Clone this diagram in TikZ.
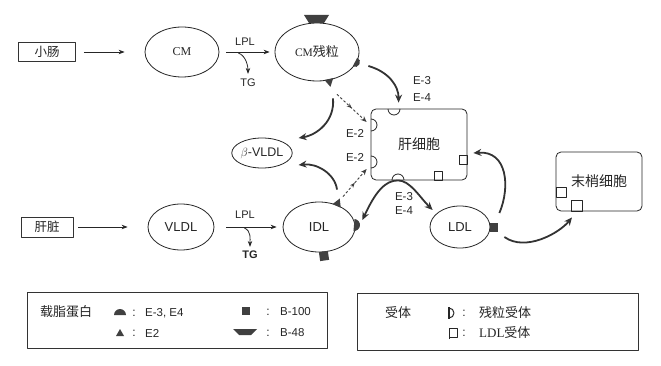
\documentclass[tikz,border=0pt]{standalone}
\usepackage{fontspec}
\setmainfont{Liberation Sans}
\newfontfamily\cjk{Noto Sans CJK SC}
\newfontfamily\serf{Liberation Serif}
\usetikzlibrary{shapes.geometric,arrows.meta,decorations.markings}
\begin{document}
\begin{tikzpicture}[x=1pt,y=-1pt,line join=round,
  every node/.style={text=black!85, inner sep=0pt},
  ell/.style={draw=black!85, ellipse, line width=0.8pt},
  bx/.style={draw=black!80, line width=0.7pt},
  cell/.style={draw=black!85, line width=0.8pt, rounded corners=5pt},
  lgd/.style={draw=black!80, line width=0.8pt},
  fs/.style={font=\fontsize{#1}{#1}\selectfont},
  cjkfs/.style={font=\cjk\fontsize{#1}{#1}\selectfont},
  thinarr/.style={draw=black!85, line width=0.8pt, -{Stealth[length=6pt,width=4.5pt]}},
  thickarr/.style={draw=black!80, line width=1.8pt, -{Stealth[length=8pt,width=7pt]}},
  dasharr/.style={draw=black!75, line width=0.9pt, dash pattern=on 2.5pt off 2pt, -{Stealth[length=6pt,width=5pt]},
    postaction={decorate, decoration={markings, mark=at position 0.5 with {\arrow{Stealth[length=5pt,width=4pt]}}}}},
  apo/.style={fill=black!75},
  rec/.style={draw=black!85, line width=0.8pt},
]
\fill[white] (0,0) rectangle (661,366);
\useasboundingbox (0,0) rectangle (661,366);

% ---------- nodes ----------
\node[bx, minimum width=57pt, minimum height=19pt, cjkfs=12.5] (xc) at (47,52) {小肠};
\node[ell, minimum width=74pt, minimum height=50pt, font=\serf\fontsize{12}{12}\selectfont] (cm) at (182,52) {CM};
\node[ell, minimum width=84pt, minimum height=58pt, cjkfs=13] (cmr) at (317,52) {{\serf\fontsize{11.5}{11.5}\selectfont CM}残粒};
\node[ell, minimum width=60pt, minimum height=30pt, fs=12.5] (bvl) at (262,153) {$\beta$-VLDL};
\node[cell, minimum width=96pt, minimum height=71pt, cjkfs=14] (hep) at (419,144.5) {肝细胞};
\node[bx, minimum width=52pt, minimum height=20pt, cjkfs=12.5] (hz) at (47,227) {肝脏};
\node[ell, minimum width=66pt, minimum height=46pt, fs=13] (vldl) at (181,227) {VLDL};
\node[ell, minimum width=72pt, minimum height=50pt, fs=13] (idl) at (319,227) {IDL};
\node[ell, minimum width=60pt, minimum height=42pt, fs=13] (ldl) at (460,227) {LDL};
\node[cell, minimum width=86pt, minimum height=59pt, cjkfs=14] (pc) at (599,181.5) {末梢细胞};

% ---------- labels ----------
\node[fs=11] (lpl1) at (245,42) {LPL};
\node[fs=11] (tg1) at (248,83) {TG};
\node[fs=11] (lpl2) at (245,215) {LPL};
\node[font=\bfseries\fontsize{11}{11}\selectfont] (tg2) at (250,255) {TG};
\node[fs=11.5] (e3a) at (422,81) {E-3};
\node[fs=11.5] (e4a) at (422,98) {E-4};
\node[fs=11.5] (e2a) at (355,133) {E-2};
\node[fs=11.5] (e2b) at (355,157) {E-2};
\node[fs=11.5] (e3b) at (404,197) {E-3};
\node[fs=11.5] (e4b) at (404,211) {E-4};

% ---------- thin arrows ----------
\draw[thinarr] ([xshift=8pt]xc.east) -- ([xshift=-20pt]cm.west);
\draw[thinarr] ([xshift=7pt]cm.east) -- ([xshift=-5pt]cmr.west);
\draw[thinarr] ([shift={(19,1)}]cm.east) .. controls ([shift={(27,4)}]cm.east) and ([shift={(0,-12)}]tg1.north) .. ([shift={(0,-5)}]tg1.north);
\draw[thinarr] ([xshift=5pt]hz.east) -- ([xshift=-20pt]vldl.west);
\draw[thinarr] ([xshift=12pt]vldl.east) -- ([xshift=-6pt]idl.west);
\draw[thinarr] ([shift={(30,1)}]vldl.east) .. controls ([shift={(37,4)}]vldl.east) and ([shift={(0,-12)}]tg2.north) .. ([shift={(0,-4)}]tg2.north);

% ---------- thick arrows ----------
\draw[thickarr] ([shift={(9,14)}]cmr.east) .. controls ([shift={(30,20)}]cmr.east) and ([shift={(28,-22)}]hep.north west) .. ([shift={(28,-6)}]hep.north west);
\draw[thickarr] ([shift={(16,17)}]cmr.south) .. controls ([shift={(18,40)}]cmr.south) and ([shift={(24,-18)}]bvl.east) .. ([shift={(6,-15)}]bvl.east);
\draw[thickarr] ([shift={(18,-12)}]idl.north) .. controls ([shift={(16,-28)}]idl.north) and ([shift={(24,10)}]bvl.east) .. ([shift={(6,12)}]bvl.east);
\draw[thickarr, {Stealth[length=8pt,width=7pt]}-{Stealth[length=8pt,width=7pt]}] ([shift={(7,-7)}]idl.east) .. controls ([shift={(20,-35)}]idl.east) and ([shift={(-34,0)}]hep.south) .. ([shift={(-21,0)}]hep.south) .. controls ([shift={(-9,0)}]hep.south) and ([shift={(-10,-30)}]ldl.west) .. ([shift={(3,-17)}]ldl.west);
\draw[thickarr] ([shift={(9,-14)}]ldl.east) .. controls ([shift={(20,-40)}]ldl.east) and ([shift={(40,6)}]hep.east) .. ([shift={(6,8.5)}]hep.east);
\draw[thickarr] ([shift={(14,10)}]ldl.east) .. controls ([shift={(35,25)}]ldl.east) and ([shift={(-40,22)}]pc.south) .. ([shift={(-27,6)}]pc.south);

% ---------- dashed arrows ----------
\draw[dasharr] ([shift={(20,13)}]cmr.south) -- ([shift={(-4,-22.5)}]hep.west);
\draw[dasharr] ([shift={(24,-5)}]idl.north) -- ([shift={(-4,24.5)}]hep.west);

% ---------- receptors on hepatocyte ----------
\draw[rec] (388,109) arc[start angle=180,end angle=0,radius=6];
\draw[rec] (371,119) arc[start angle=-90,end angle=90,radius=6];
\draw[rec] (371,156) arc[start angle=-90,end angle=90,radius=6];
\draw[rec] (392,180) arc[start angle=180,end angle=360,radius=6];
\draw[rec] (459,155) rectangle (467,164);
\draw[rec] (434,171) rectangle (442,180);
% receptors on peripheral cell
\draw[rec] (556,187) rectangle (566,197);
\draw[rec] (571,200) rectangle (582,211);

% ---------- apolipoproteins ----------
\fill[apo] (304,15) -- (329,15) -- (324,23) -- (309,23) -- cycle;
\fill[apo, shift={(355,62)}, rotate=-28] (0,-5) arc[start angle=-90,end angle=90,radius=5] -- cycle;
\fill[apo, shift={(329,80)}, rotate=-78] (-1,-4.5) -- (7,0) -- (-1,4.5) -- cycle;
\fill[apo, shift={(337,205)}, rotate=67] (-1,-4.5) -- (7,0) -- (-1,4.5) -- cycle;
\fill[apo, shift={(354,225)}, rotate=-5] (0,-6) arc[start angle=-90,end angle=90,radius=6] -- cycle;
\fill[apo, shift={(324,256)}, rotate=8] (-4.5,-4.5) rectangle (4.5,4.5);
\fill[apo] (490,223) rectangle (498,232);

% ---------- legend 1 ----------
\node[lgd, minimum width=300pt, minimum height=56pt] (lg1) at (177,320) {};
\node[cjkfs=13] (lgt1) at (66,312) {载脂蛋白};
\fill[apo] (114,315) arc[start angle=180,end angle=360,radius=6] -- cycle;
\node[fs=12] (c1) at (134,313) {:};
\node[fs=11.5, anchor=west] (l1) at (145,313) {E-3, E4};
\fill[apo] (116,336) -- (124,336) -- (120,329) -- cycle;
\node[fs=12] (c2) at (134,333) {:};
\node[fs=11.5, anchor=west] (l2) at (145,333) {E2};
\fill[apo] (242,307) rectangle (250,315);
\node[fs=12] (c3) at (268,312) {:};
\node[fs=11.5, anchor=west] (l3) at (280,312) {B-100};
\fill[apo] (233,329) -- (257,329) -- (251,335) -- (239,335) -- cycle;
\node[fs=12] (c4) at (268,333) {:};
\node[fs=11.5, anchor=west] (l4) at (280,333) {B-48};

% ---------- legend 2 ----------
\node[lgd, minimum width=281pt, minimum height=57pt] (lg2) at (497.5,321.5) {};
\node[cjkfs=13] (lgt2) at (398,313) {受体};
\draw[line width=1.4pt, black!85] (449,307) -- (449,319);
\draw[line width=1pt, black!85] (449,308) arc[start angle=-90,end angle=90,radius=5];
\node[fs=12] (c5) at (464,313) {:};
\node[cjkfs=13, anchor=west] (l5) at (479,313) {残粒受体};
\draw[line width=1pt, black!85] (449,339) -- (449,328) -- (457,328) -- (457,337) -- (449,337);
\node[fs=12] (c6) at (464,333) {:};
\node[cjkfs=13, anchor=west] (l6) at (479,333) {{\serf LDL}受体};
\end{tikzpicture}
\end{document}
